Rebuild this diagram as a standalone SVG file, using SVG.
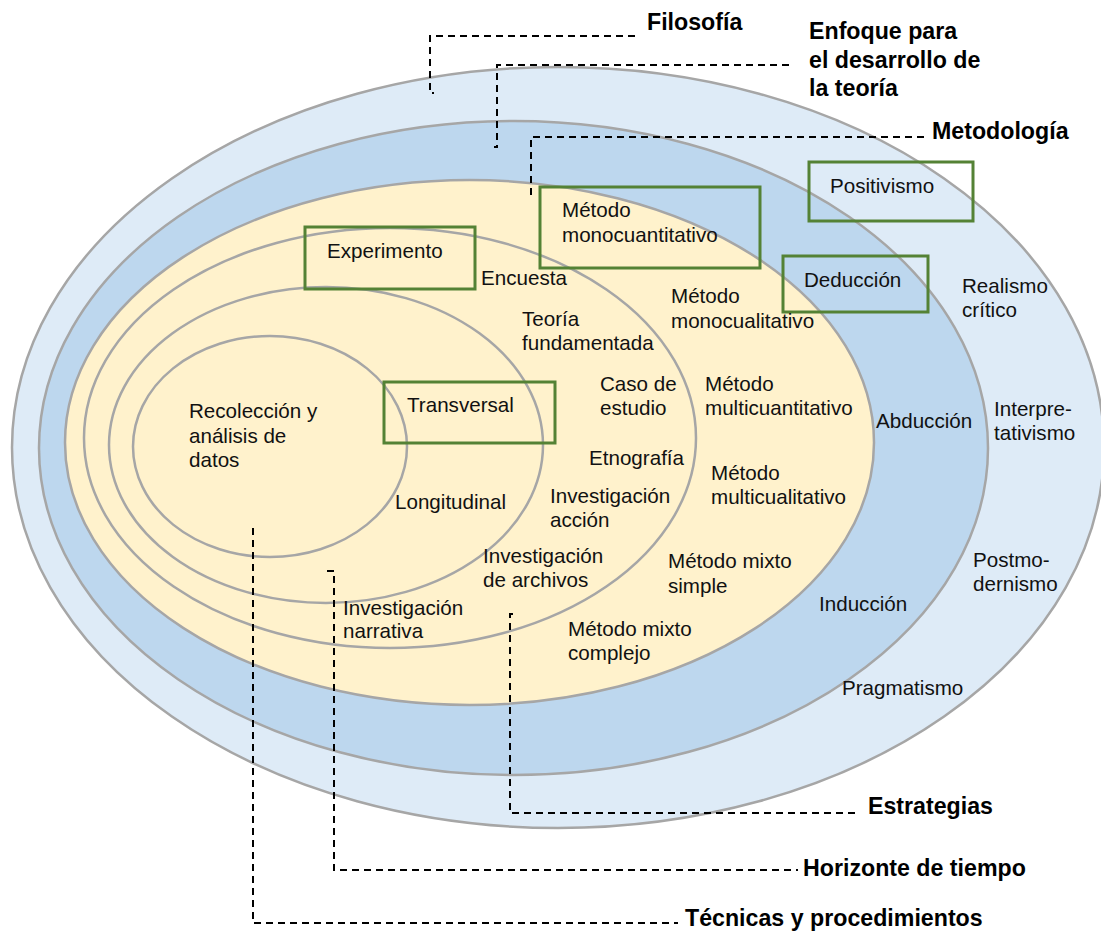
<svg xmlns="http://www.w3.org/2000/svg" width="1101" height="933" viewBox="0 0 1101 933">
<style>
.ring{stroke:#a6a6a6;stroke-width:2.5}
.box{fill:none;stroke:#548235;stroke-width:3}
.lead{fill:none;stroke:#000;stroke-width:2;stroke-dasharray:7 5}
text{font-family:"Liberation Sans",Arial,sans-serif;font-size:20.6px;fill:#111}
.hd{font-weight:bold;font-size:23.2px;fill:#000}
</style>
<rect width="1101" height="933" fill="#fff"/>
<g id="layer-filosofia"><ellipse class="ring" cx="558" cy="447.5" rx="546" ry="380.5" fill="#deebf7"/></g>
<g id="layer-enfoque"><ellipse class="ring" cx="513.5" cy="448" rx="474.5" ry="327" fill="#bdd7ee"/></g>
<g id="layer-metodologia"><ellipse class="ring" cx="469.5" cy="442.5" rx="404.5" ry="262.5" fill="#fff2cc"/></g>
<g id="layer-estrategias"><ellipse class="ring" cx="390" cy="438" rx="306" ry="210" fill="#fff2cc"/></g>
<g id="layer-horizonte"><ellipse class="ring" cx="326" cy="445" rx="217" ry="158" fill="#fff2cc"/></g>
<g id="layer-tecnicas"><ellipse class="ring" cx="270" cy="446.5" rx="137" ry="110.5" fill="#fff2cc"/></g>

<g id="connectors">
<path class="lead" d="M635,36 H430 V93 H434"/>
<path class="lead" d="M789,65 H497 V147 H494"/>
<path class="lead" d="M924,137 H531 V195 H528"/>
<path class="lead" d="M513,614 H510 V813 H859"/>
<path class="lead" d="M327,571 H334 V870 H798"/>
<path class="lead" d="M253,528 V923 H678"/>
</g>

<g id="box-experimento"><rect class="box" x="305" y="227" width="170" height="62"/><text x="327" y="258">Experimento</text></g>
<g id="box-monocuantitativo"><rect class="box" x="540" y="187" width="220" height="81"/><text x="562" y="217">Método</text><text x="562" y="242">monocuantitativo</text></g>
<g id="box-positivismo"><rect class="box" x="809" y="162" width="164" height="59"/><text x="830" y="193">Positivismo</text></g>
<g id="box-deduccion"><rect class="box" x="783" y="256" width="145" height="56"/><text x="804" y="287">Deducción</text></g>
<g id="box-transversal"><rect class="box" x="384" y="382" width="171" height="61"/><text x="407" y="412">Transversal</text></g>

<g id="labels">
<text x="481" y="285">Encuesta</text>
<text x="671" y="303">Método</text><text x="671" y="328">monocualitativo</text>
<text x="522" y="326">Teoría</text><text x="522" y="350">fundamentada</text>
<text x="600" y="391">Caso de</text><text x="600" y="415">estudio</text>
<text x="589" y="465">Etnografía</text>
<text x="550" y="503">Investigación</text><text x="550" y="527">acción</text>
<text x="483" y="563">Investigación</text><text x="483" y="587">de archivos</text>
<text x="395" y="509">Longitudinal</text>
<text x="189" y="418">Recolección y</text><text x="189" y="443">análisis de</text><text x="189" y="467">datos</text>
<text x="343" y="615">Investigación</text><text x="343" y="638">narrativa</text>
<text x="705" y="391">Método</text><text x="705" y="415">multicuantitativo</text>
<text x="711" y="480">Método</text><text x="711" y="504">multicualitativo</text>
<text x="668" y="568">Método mixto</text><text x="668" y="593">simple</text>
<text x="568" y="636">Método mixto</text><text x="568" y="660">complejo</text>
<text x="962" y="293">Realismo</text><text x="962" y="317">crítico</text>
<text x="876" y="428">Abducción</text>
<text x="994" y="416">Interpre-</text><text x="994" y="440">tativismo</text>
<text x="973" y="567">Postmo-</text><text x="973" y="591">dernismo</text>
<text x="819" y="611">Inducción</text>
<text x="842" y="695">Pragmatismo</text>
</g>

<g id="headings">
<text class="hd" x="647" y="30">Filosofía</text>
<text class="hd" x="809" y="39">Enfoque para</text>
<text class="hd" x="809" y="68">el desarrollo de</text>
<text class="hd" x="809" y="96">la teoría</text>
<text class="hd" x="932" y="139">Metodología</text>
<text class="hd" x="868" y="814">Estrategias</text>
<text class="hd" x="803" y="876">Horizonte de tiempo</text>
<text class="hd" x="685" y="926">Técnicas y procedimientos</text>
</g>
</svg>
